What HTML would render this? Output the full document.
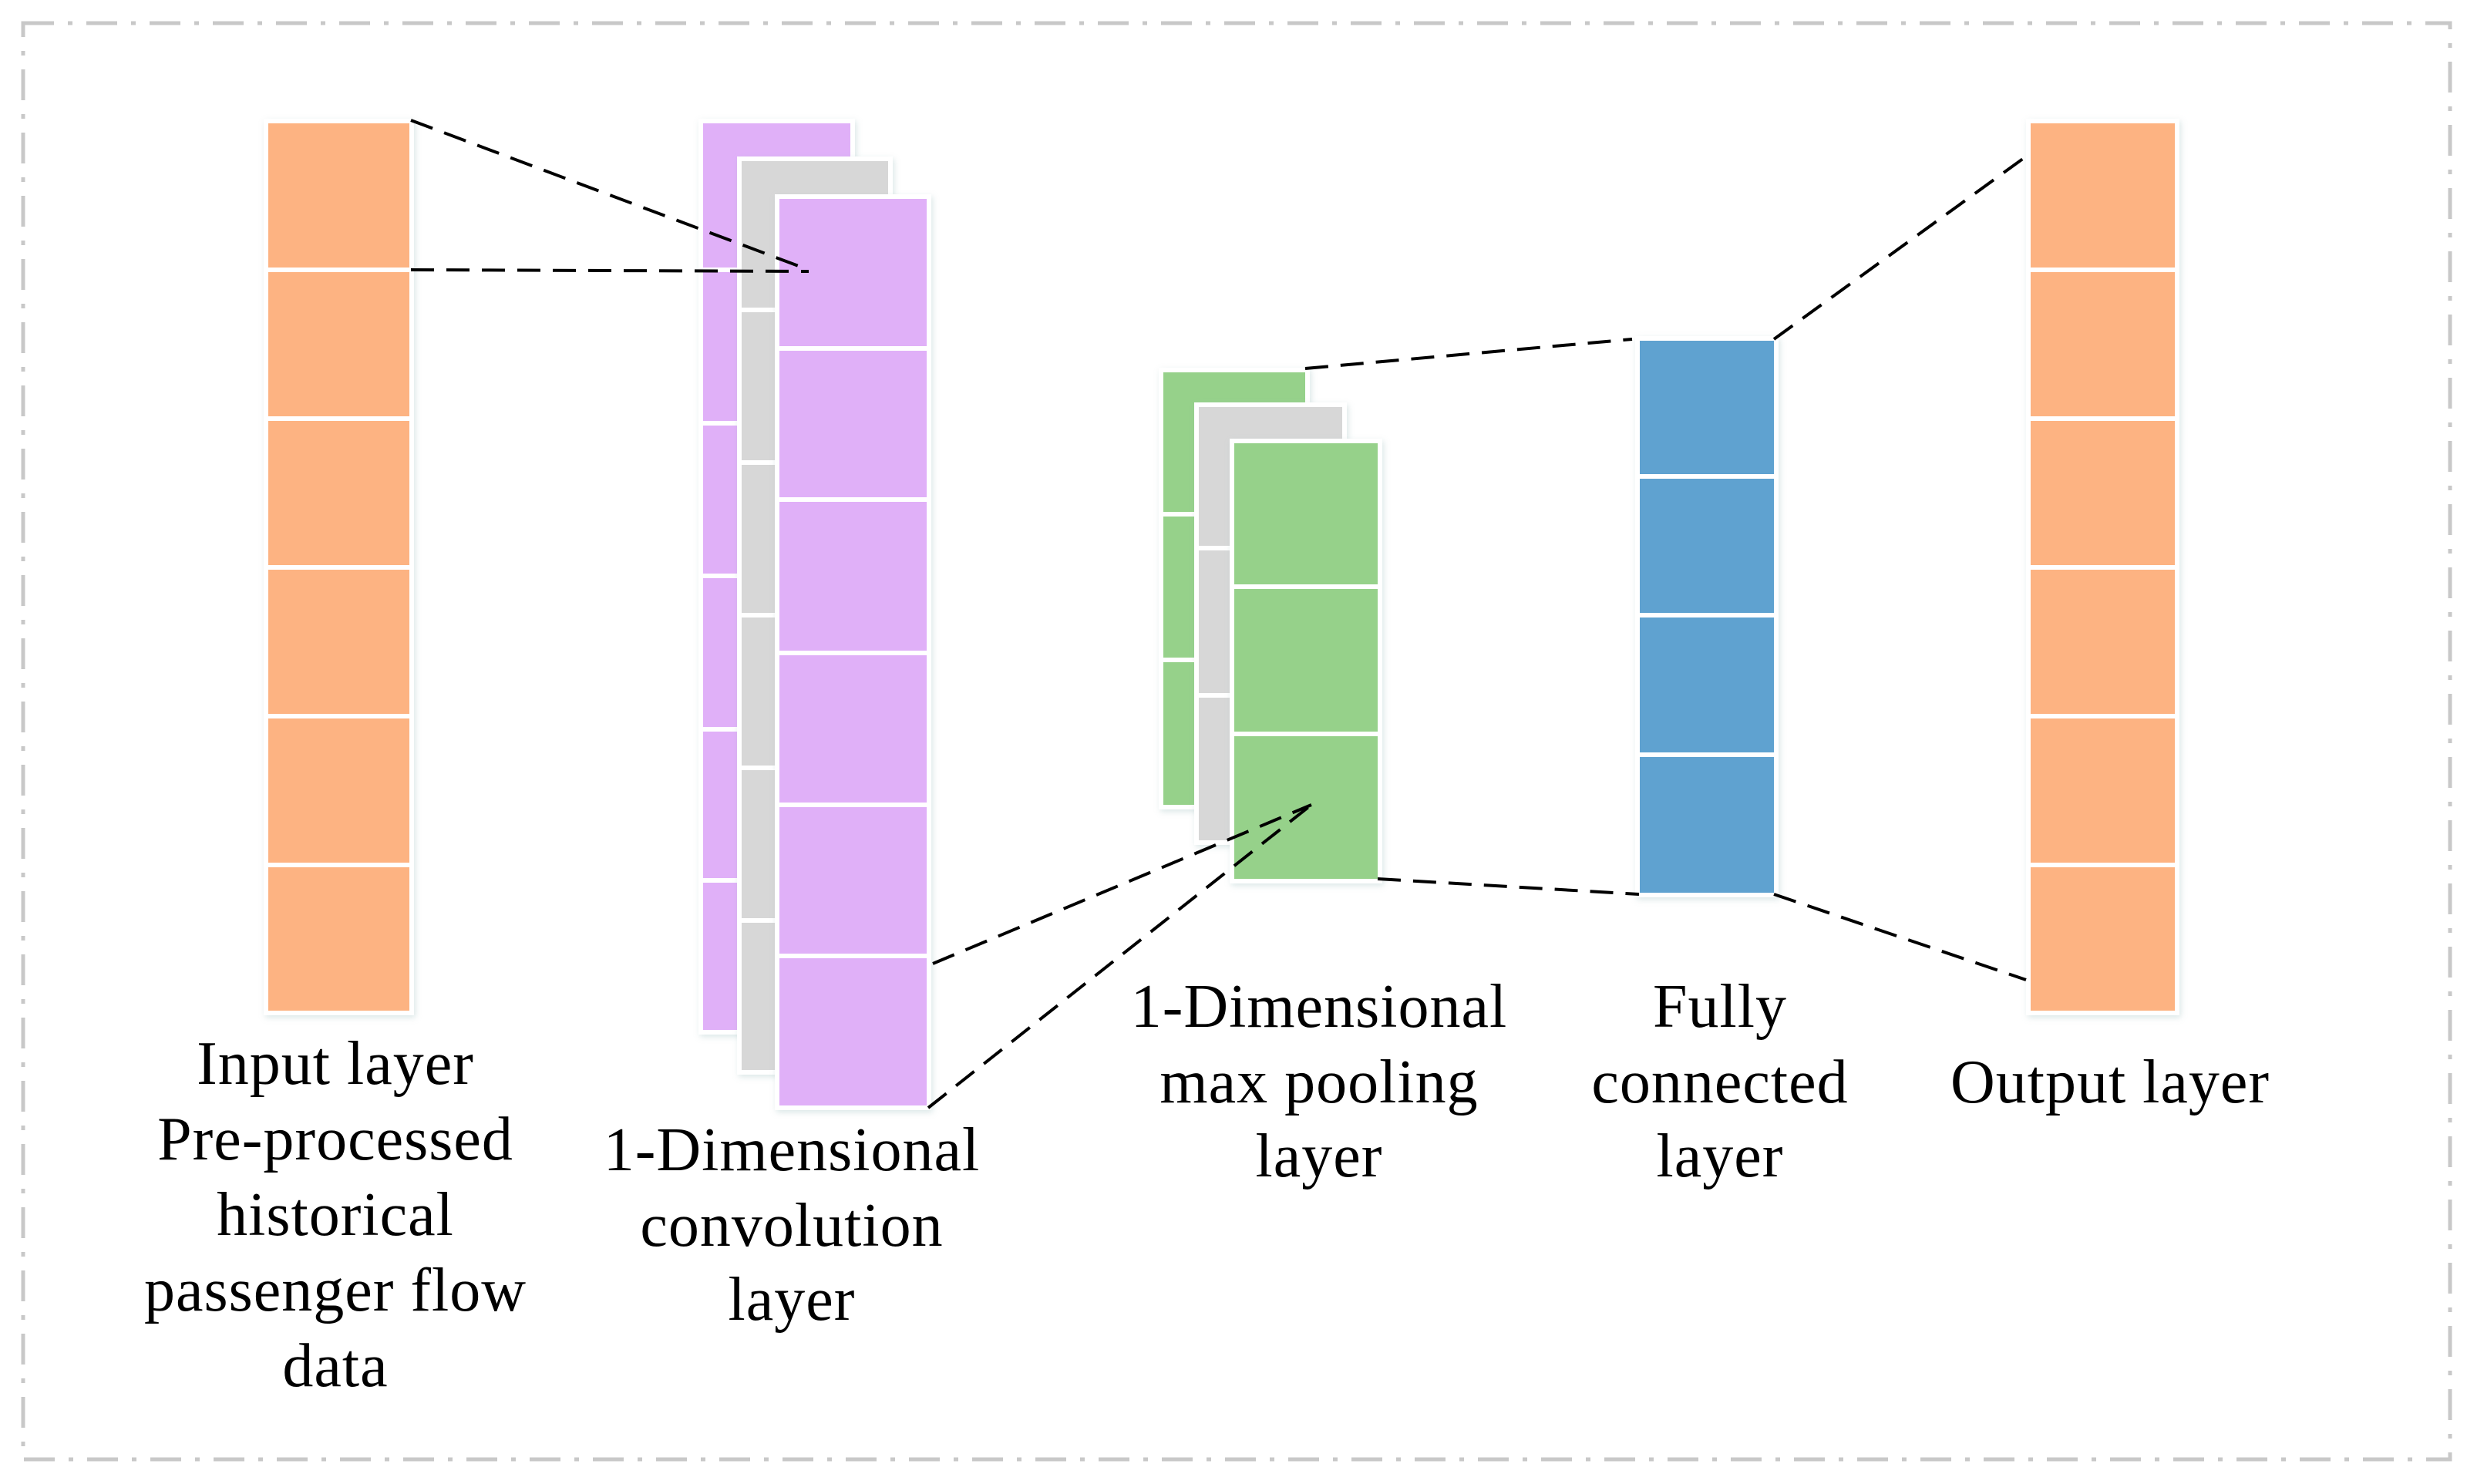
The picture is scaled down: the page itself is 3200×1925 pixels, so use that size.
<!DOCTYPE html>
<html><head><meta charset="utf-8"><style>
html,body{margin:0;padding:0;background:#fff;}
svg{display:block;}
text{font-family:"Liberation Serif",serif;font-size:80px;letter-spacing:1px;fill:#000;text-anchor:middle;dominant-baseline:central;}
</style></head><body>
<svg width="3200" height="1925" viewBox="0 0 3200 1925" xmlns="http://www.w3.org/2000/svg">
<defs>
<filter id="sh" x="-10%" y="-5%" width="120%" height="110%"><feDropShadow dx="2" dy="3" stdDeviation="4" flood-color="#9bb" flood-opacity="0.35"/></filter>
</defs>
<rect x="30" y="30" width="3148" height="1863" fill="none" stroke="#c8c8c8" stroke-width="5" stroke-dasharray="40 18 6 18"/>

<g filter="url(#sh)"><rect x="342" y="154" width="195" height="1163" fill="#fff"/></g>
<g fill="#fdb382">
<rect x="348" y="160" width="183" height="187"/>
<rect x="348" y="353" width="183" height="187"/>
<rect x="348" y="546" width="183" height="187"/>
<rect x="348" y="739" width="183" height="187"/>
<rect x="348" y="932" width="183" height="187"/>
<rect x="348" y="1125" width="183" height="186"/>
</g>

<g filter="url(#sh)"><rect x="906" y="154" width="203" height="1188" fill="#fff"/></g>
<g fill="#e0b0f8">
<rect x="912" y="160" width="191" height="187"/>
<rect x="912" y="353" width="191" height="193"/>
<rect x="912" y="552" width="191" height="192"/>
<rect x="912" y="750" width="191" height="193"/>
<rect x="912" y="949" width="191" height="190"/>
<rect x="912" y="1145" width="191" height="191"/>
</g>
<g filter="url(#sh)"><rect x="956" y="203" width="202" height="1191" fill="#fff"/></g>
<g fill="#d7d7d7">
<rect x="962" y="209" width="190" height="190"/>
<rect x="962" y="405" width="190" height="192"/>
<rect x="962" y="603" width="190" height="192"/>
<rect x="962" y="801" width="190" height="192"/>
<rect x="962" y="999" width="190" height="192"/>
<rect x="962" y="1197" width="190" height="191"/>
</g>
<g filter="url(#sh)"><rect x="1005" y="252" width="203" height="1188" fill="#fff"/></g>
<g fill="#e0b0f8">
<rect x="1011" y="258" width="191" height="191"/>
<rect x="1011" y="455" width="191" height="190"/>
<rect x="1011" y="651" width="191" height="193"/>
<rect x="1011" y="850" width="191" height="191"/>
<rect x="1011" y="1047" width="191" height="190"/>
<rect x="1011" y="1243" width="191" height="191"/>
</g>

<g filter="url(#sh)"><rect x="1503" y="477" width="196" height="573" fill="#fff"/></g>
<g fill="#96d18a">
<rect x="1509" y="483" width="184" height="181"/>
<rect x="1509" y="670" width="184" height="183"/>
<rect x="1509" y="859" width="184" height="185"/>
</g>
<g filter="url(#sh)"><rect x="1549" y="522" width="198" height="574" fill="#fff"/></g>
<g fill="#d7d7d7">
<rect x="1555" y="528" width="186" height="180"/>
<rect x="1555" y="714" width="186" height="185"/>
<rect x="1555" y="905" width="186" height="185"/>
</g>
<g filter="url(#sh)"><rect x="1595" y="569" width="198" height="577" fill="#fff"/></g>
<g fill="#96d18a">
<rect x="1601" y="575" width="186" height="183"/>
<rect x="1601" y="764" width="186" height="185"/>
<rect x="1601" y="955" width="186" height="185"/>
</g>

<g filter="url(#sh)"><rect x="2121" y="436" width="186" height="728" fill="#fff"/></g>
<g fill="#5fa2d0">
<rect x="2127" y="442" width="174" height="173"/>
<rect x="2127" y="621" width="174" height="174"/>
<rect x="2127" y="801" width="174" height="175"/>
<rect x="2127" y="982" width="174" height="176"/>
</g>

<g filter="url(#sh)"><rect x="2628" y="154" width="199" height="1163" fill="#fff"/></g>
<g fill="#fdb382">
<rect x="2634" y="160" width="187" height="187"/>
<rect x="2634" y="353" width="187" height="187"/>
<rect x="2634" y="546" width="187" height="187"/>
<rect x="2634" y="739" width="187" height="187"/>
<rect x="2634" y="932" width="187" height="187"/>
<rect x="2634" y="1125" width="187" height="186"/>
</g>

<g stroke="#000" stroke-width="4" stroke-dasharray="30 16" fill="none">
<line x1="533" y1="156" x2="1049" y2="350"/>
<line x1="533" y1="350" x2="1049" y2="352"/>
<line x1="1210" y1="1250" x2="1701" y2="1044"/>
<line x1="1204" y1="1437" x2="1701" y2="1044"/>
<line x1="1693" y1="478" x2="2117" y2="440"/>
<line x1="1787" y1="1140" x2="2126" y2="1160"/>
<line x1="2301" y1="440" x2="2628" y2="203"/>
<line x1="2301" y1="1160" x2="2628" y2="1271"/>
</g>

<text x="435" y="1380">Input layer</text>
<text x="435" y="1478">Pre-processed</text>
<text x="435" y="1576">historical</text>
<text x="435" y="1674">passenger flow</text>
<text x="435" y="1772">data</text>

<text x="1027" y="1492">1-Dimensional</text>
<text x="1027" y="1590">convolution</text>
<text x="1027" y="1686">layer</text>

<text x="1711" y="1306">1-Dimensional</text>
<text x="1711" y="1404">max pooling</text>
<text x="1711" y="1500">layer</text>

<text x="2231" y="1306">Fully</text>
<text x="2231" y="1404">connected</text>
<text x="2231" y="1500">layer</text>

<text x="2737" y="1404">Output layer</text>
</svg>
</body></html>
